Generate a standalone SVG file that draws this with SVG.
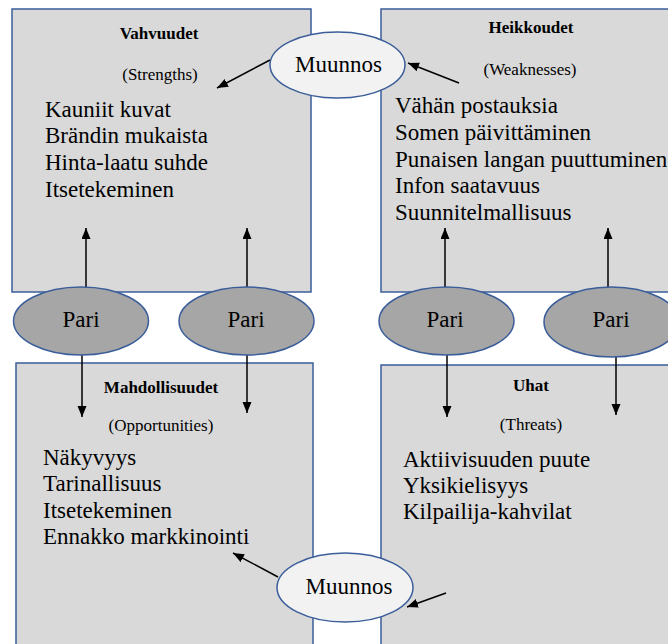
<svg xmlns="http://www.w3.org/2000/svg" width="668" height="644" viewBox="0 0 668 644" font-family="Liberation Serif, serif">
<defs>
<style>
.box{fill:#d9d9d9;stroke:#3b5e9a;stroke-width:1.5}
.pari{fill:#a6a6a6;stroke:#3b5e9a;stroke-width:1.5}
.mu{fill:#f2f2f2;stroke:#3b5e9a;stroke-width:1.5}
text{font-family:'Liberation Serif',serif;fill:#000}
.t{font-size:17px;font-weight:bold;text-anchor:middle}
.s{font-size:17px;text-anchor:middle}
.l{font-size:23px}
.c{font-size:23px;text-anchor:middle}
.a{stroke:#000;stroke-width:1.5;fill:none;marker-end:url(#ah)}
</style>
<marker id="ah" markerUnits="userSpaceOnUse" markerWidth="12" markerHeight="10" refX="11" refY="4.5" orient="auto" viewBox="0 0 12 10">
<path d="M0,0 L11,4.5 L0,9 z" fill="#000"/>
</marker>
</defs>
<rect width="668" height="644" fill="#fff"/>
<g id="vahvuudet">
<rect class="box" x="12" y="9" width="299" height="283"/>
<text class="t" x="159" y="39">Vahvuudet</text>
<text class="s" x="160" y="80">(Strengths)</text>
<text class="l" x="45" y="117">Kauniit kuvat</text>
<text class="l" x="45" y="143">Brändin mukaista</text>
<text class="l" x="45" y="170">Hinta-laatu suhde</text>
<text class="l" x="45" y="197">Itsetekeminen</text>
</g>
<g id="heikkoudet">
<rect class="box" x="381" y="9" width="300" height="283"/>
<text class="t" x="531" y="33">Heikkoudet</text>
<text class="s" x="530" y="75">(Weaknesses)</text>
<text class="l" x="395" y="113">Vähän postauksia</text>
<text class="l" x="395" y="140">Somen päivittäminen</text>
<text class="l" x="395" y="167">Punaisen langan puuttuminen</text>
<text class="l" x="395" y="193">Infon saatavuus</text>
<text class="l" x="395" y="220">Suunnitelmallisuus</text>
</g>
<g id="mahdollisuudet">
<rect class="box" x="16" y="363" width="297" height="300"/>
<text class="t" x="161" y="393">Mahdollisuudet</text>
<text class="s" x="161" y="431">(Opportunities)</text>
<text class="l" x="43" y="465">Näkyvyys</text>
<text class="l" x="43" y="491">Tarinallisuus</text>
<text class="l" x="43" y="518">Itsetekeminen</text>
<text class="l" x="43" y="544">Ennakko markkinointi</text>
</g>
<g id="uhat">
<rect class="box" x="381" y="365" width="300" height="300"/>
<text class="t" x="531" y="391">Uhat</text>
<text class="s" x="531" y="430">(Threats)</text>
<text class="l" x="403" y="467">Aktiivisuuden puute</text>
<text class="l" x="403" y="493">Yksikielisyys</text>
<text class="l" x="403" y="519">Kilpailija-kahvilat</text>
</g>
<g id="connectors">
<line class="a" x1="86" y1="292" x2="86" y2="228"/>
<line class="a" x1="247" y1="292" x2="247" y2="228"/>
<line class="a" x1="445" y1="292" x2="445" y2="228"/>
<line class="a" x1="608" y1="292" x2="608" y2="228"/>
<line class="a" x1="82" y1="354" x2="82" y2="417"/>
<line class="a" x1="247" y1="350" x2="247" y2="413"/>
<line class="a" x1="447" y1="354" x2="447" y2="417"/>
<line class="a" x1="616" y1="355" x2="616" y2="415"/>
<line class="a" x1="270" y1="60" x2="217" y2="88"/>
<line class="a" x1="459" y1="83" x2="408" y2="63"/>
<line class="a" x1="278" y1="577" x2="233" y2="553"/>
<line class="a" x1="446" y1="593" x2="407" y2="607"/>
</g>
<g id="pari1">
<ellipse class="pari" cx="81" cy="321" rx="67.5" ry="34"/>
<text class="c" x="81" y="327">Pari</text>
</g>
<g id="pari2">
<ellipse class="pari" cx="246.5" cy="321" rx="67.5" ry="34"/>
<text class="c" x="246" y="327">Pari</text>
</g>
<g id="pari3">
<ellipse class="pari" cx="446.5" cy="321" rx="67.5" ry="34"/>
<text class="c" x="445" y="327">Pari</text>
</g>
<g id="pari4">
<ellipse class="pari" cx="611.5" cy="322" rx="67.5" ry="35"/>
<text class="c" x="611" y="327">Pari</text>
</g>
<g id="muunnos1">
<ellipse class="mu" cx="337.5" cy="65" rx="67.5" ry="33"/>
<text class="c" x="338.5" y="72">Muunnos</text>
</g>
<g id="muunnos2">
<ellipse class="mu" cx="345" cy="587.5" rx="68" ry="34.5"/>
<text class="c" x="349" y="594">Muunnos</text>
</g>
</svg>
